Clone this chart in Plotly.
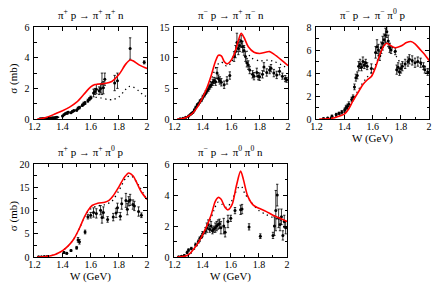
import plotly.graph_objects as go

# ---------------- data ----------------
# Panel 1: pi+ p -> pi+ pi+ n
R1_W = [1.22,1.25,1.30,1.35,1.40,1.45,1.50,1.55,1.60,1.63,1.65,1.70,1.75,1.80,1.85,1.88,1.90,1.95,2.00]
R1_S = [0.0,0.03,0.15,0.35,0.55,0.78,1.10,1.60,2.10,2.25,2.28,2.32,2.45,2.90,3.60,3.85,3.80,3.50,3.30]
D1_W = [1.30,1.35,1.40,1.45,1.50,1.55,1.60,1.63,1.67,1.72,1.76,1.80,1.84,1.87,1.90,1.94,1.97,2.00]
D1_S = [0.02,0.08,0.20,0.38,0.62,0.95,1.32,1.42,1.38,1.28,1.27,1.45,1.85,2.12,2.10,1.85,1.60,1.45]
P1_W = [1.24,1.25,1.26,1.27,1.28,1.29,1.30,1.31,1.32,1.33,1.34,1.35,1.36,1.40,1.41,1.42,1.43,1.44,1.46,1.47,1.48,1.50,1.51,1.52,1.54,1.55,1.56,1.58,1.59,1.60,1.62,1.63,1.64,1.66,1.67,1.68,1.69,1.70,1.77,1.79,1.88,1.98]
P1_S = [0.02,0.02,0.03,0.03,0.04,0.05,0.05,0.06,0.07,0.08,0.09,0.10,0.12,0.20,0.28,0.35,0.40,0.45,0.42,0.50,0.55,0.58,0.70,0.75,0.90,1.00,1.05,1.20,1.30,1.40,1.70,1.80,1.95,1.85,2.00,2.30,2.05,2.60,2.35,2.50,4.60,3.70]
P1_E = [0.02,0.02,0.02,0.02,0.02,0.02,0.02,0.02,0.02,0.02,0.02,0.02,0.02,0.04,0.05,0.05,0.05,0.05,0.05,0.06,0.06,0.06,0.08,0.08,0.08,0.10,0.10,0.10,0.10,0.10,0.25,0.20,0.30,0.25,0.30,0.70,0.40,0.40,0.50,0.50,0.70,0.10]

# Panel 2: pi- p -> pi+ pi- n
R2_W = [1.22,1.25,1.28,1.30,1.33,1.36,1.40,1.43,1.46,1.49,1.51,1.53,1.55,1.57,1.59,1.62,1.65,1.67,1.69,1.72,1.76,1.80,1.84,1.87,1.90,1.95,2.00]
R2_S = [0.0,0.05,0.25,0.5,1.0,1.9,3.6,5.2,7.2,9.5,10.4,10.3,9.4,9.0,9.3,10.5,12.8,14.0,13.3,11.8,10.9,10.7,10.9,11.0,10.6,9.7,8.7]
D2_W = [1.22,1.30,1.40,1.45,1.50,1.53,1.57,1.60,1.64,1.67,1.70,1.74,1.80,1.86,1.90,1.95,2.00]
D2_S = [0.0,0.45,3.3,5.8,8.8,9.3,8.6,9.2,11.3,12.3,11.5,10.0,9.5,9.6,9.4,8.9,8.2]
P2_W = [1.24,1.26,1.28,1.30,1.31,1.32,1.33,1.34,1.35,1.36,1.37,1.38,1.39,1.40,1.41,1.42,1.43,1.44,1.45,1.46,1.47,1.48,1.49,1.50,1.51,1.52,1.53,1.55,1.57,1.59,1.62,1.63,1.64,1.65,1.66,1.67,1.68,1.69,1.70,1.71,1.72,1.73,1.75,1.76,1.78,1.79,1.80,1.82,1.83,1.85,1.87,1.88,1.90,1.92,1.94,1.96,1.98,1.99]
P2_S = [0.05,0.15,0.3,0.5,0.7,0.9,1.1,1.5,1.9,2.3,2.5,2.9,3.1,3.6,3.9,4.3,4.6,4.9,5.3,5.6,6.0,6.3,6.1,7.5,6.6,6.3,6.0,5.6,6.3,7.1,10.2,11.0,12.5,11.5,12.0,12.7,11.8,11.2,10.2,9.2,8.8,8.0,7.3,7.0,7.6,7.0,6.9,7.3,8.5,7.6,8.0,8.3,7.5,7.2,7.8,7.0,6.6,6.4]
P2_E = [0.05,0.05,0.1,0.1,0.1,0.1,0.15,0.15,0.2,0.2,0.2,0.25,0.25,0.3,0.3,0.3,0.35,0.35,0.4,0.4,0.5,0.5,0.6,0.9,0.6,0.6,0.6,0.6,0.6,0.6,0.8,1.0,1.5,1.0,1.0,1.0,0.9,0.8,0.8,0.7,0.7,0.6,0.6,0.6,0.7,0.6,0.6,0.6,0.7,0.6,0.6,0.6,0.6,0.6,0.6,0.5,0.5,0.4]

# Panel 3: pi- p -> pi- pi0 p
R3_W = [1.22,1.28,1.33,1.37,1.40,1.43,1.46,1.50,1.53,1.56,1.59,1.62,1.65,1.68,1.70,1.72,1.76,1.80,1.84,1.87,1.90,1.94,1.97,2.00]
R3_S = [0.0,0.03,0.12,0.28,0.45,0.9,1.6,2.4,3.0,3.4,3.7,4.5,5.6,6.4,6.6,6.45,6.2,6.35,6.65,6.75,6.55,6.0,5.6,5.1]
D3_W = [1.30,1.35,1.40,1.45,1.50,1.55,1.60,1.65,1.70,1.73,1.77,1.80,1.85,1.90,1.95,2.00]
D3_S = [0.05,0.25,0.6,1.4,2.6,3.5,4.2,5.6,6.7,6.4,5.4,4.9,4.9,5.0,4.7,4.3]
P3_W = [1.25,1.28,1.31,1.34,1.36,1.38,1.40,1.41,1.42,1.43,1.45,1.46,1.47,1.48,1.49,1.50,1.51,1.52,1.53,1.54,1.55,1.56,1.59,1.62,1.63,1.64,1.65,1.66,1.67,1.68,1.69,1.70,1.71,1.72,1.73,1.76,1.77,1.78,1.79,1.80,1.81,1.83,1.85,1.86,1.88,1.90,1.92,1.94,1.96,1.97,1.99]
P3_S = [0.05,0.1,0.25,0.4,0.5,0.6,0.8,1.0,1.1,1.3,1.7,1.9,2.8,3.6,3.8,4.6,4.8,4.5,5.0,4.7,4.9,4.6,4.4,5.8,6.3,6.0,5.5,6.2,6.6,6.9,7.3,7.6,6.8,6.2,6.0,5.9,4.3,4.5,4.1,4.4,4.6,4.8,5.0,5.2,5.1,4.9,5.0,4.9,4.6,4.3,4.1]
P3_E = [0.05,0.05,0.1,0.1,0.1,0.15,0.15,0.2,0.2,0.2,0.2,0.2,0.25,0.3,0.3,0.4,0.4,0.3,0.4,0.3,0.3,0.3,0.4,0.5,0.6,0.5,0.4,0.5,0.6,0.5,0.6,0.5,0.5,0.4,0.3,0.3,0.4,0.4,0.3,0.4,0.4,0.4,0.4,0.4,0.4,0.4,0.4,0.4,0.3,0.3,0.3]

# Panel 4: pi+ p -> pi+ pi0 p
R4_W = [1.22,1.28,1.33,1.37,1.40,1.44,1.48,1.52,1.55,1.58,1.61,1.65,1.70,1.73,1.76,1.80,1.84,1.87,1.90,1.93,1.96,2.00]
R4_S = [0.0,0.1,0.4,0.9,1.4,2.4,3.9,6.2,8.3,10.0,11.1,11.6,11.8,12.2,13.2,15.1,17.2,18.1,17.5,15.8,14.0,12.4]
D4_W = [1.22,1.28,1.33,1.37,1.40,1.44,1.48,1.52,1.55,1.58,1.61,1.65,1.70,1.75,1.80,1.85,1.88,1.90,1.95,2.00]
D4_S = [0.0,0.1,0.4,0.9,1.4,2.4,3.9,6.2,8.3,9.8,10.6,11.0,11.3,12.0,14.3,17.0,17.5,17.2,15.0,12.2]
P4_W = [1.23,1.25,1.27,1.29,1.41,1.43,1.46,1.50,1.51,1.52,1.56,1.58,1.60,1.62,1.64,1.67,1.68,1.69,1.72,1.76,1.78,1.79,1.81,1.82,1.85,1.86,1.87,1.88,1.90,1.91,1.94,1.96]
P4_S = [0.05,0.05,0.1,0.1,1.0,0.8,1.4,2.0,3.7,3.3,5.4,8.7,9.0,9.6,9.4,10.1,8.5,9.6,8.1,8.6,9.5,10.6,8.8,11.5,12.2,10.3,12.0,12.3,11.3,11.0,9.8,9.0]
P4_E = [0.05,0.05,0.05,0.05,0.2,0.2,0.2,0.3,0.5,0.5,0.4,0.5,0.6,1.0,1.0,1.0,1.2,1.2,0.6,0.8,1.0,1.0,0.8,1.2,1.5,1.2,1.0,1.2,1.0,1.0,1.0,0.5]

# Panel 5: pi- p -> pi0 pi0 n
R5_W = [1.22,1.27,1.30,1.34,1.38,1.42,1.46,1.49,1.51,1.53,1.56,1.58,1.61,1.64,1.67,1.69,1.72,1.76,1.80,1.85,1.90,1.95,2.00]
R5_S = [0.0,0.05,0.15,0.55,1.1,1.8,2.7,3.6,3.85,3.75,3.2,3.05,3.4,4.6,5.55,5.0,3.95,3.35,3.15,2.95,2.7,2.5,2.3]
D5_W = [1.22,1.30,1.35,1.40,1.45,1.48,1.51,1.54,1.57,1.60,1.63,1.66,1.68,1.70,1.74,1.80,1.85,1.90,1.95,2.00]
D5_S = [0.0,0.12,0.6,1.3,2.3,3.0,3.55,3.4,3.2,3.5,4.1,4.55,4.5,4.1,3.6,3.0,2.75,2.55,2.4,2.25]
P5_W = [1.23,1.25,1.27,1.29,1.30,1.32,1.35,1.37,1.38,1.39,1.40,1.42,1.43,1.44,1.45,1.46,1.47,1.48,1.49,1.50,1.51,1.52,1.53,1.55,1.56,1.58,1.60,1.63,1.67,1.68,1.73,1.81,1.90,1.91,1.92,1.93,1.94,1.95,1.96,1.97,1.98,1.99]
P5_S = [0.02,0.05,0.1,0.3,0.45,0.55,0.8,1.0,1.2,1.3,1.5,1.7,1.9,2.1,1.8,2.0,1.7,1.8,1.9,2.0,2.1,2.15,1.9,2.0,1.6,2.3,2.5,3.0,3.05,3.1,1.95,1.35,1.4,2.0,3.0,4.0,2.5,2.1,2.6,1.4,2.3,1.9]
P5_E = [0.02,0.03,0.05,0.08,0.08,0.08,0.1,0.1,0.1,0.1,0.15,0.2,0.3,0.3,0.2,0.3,0.2,0.2,0.3,0.3,0.3,0.3,0.4,0.5,0.3,0.4,0.2,0.2,0.3,0.3,0.2,0.15,0.2,0.6,1.3,0.7,0.6,0.4,0.5,0.3,0.4,0.4]

TITLES = ["π<sup>+</sup> p → π<sup>+</sup> π<sup>+</sup> n",
          "π<sup>−</sup> p → π<sup>+</sup> π<sup>−</sup> n",
          "π<sup>−</sup> p → π<sup>−</sup> π<sup>0</sup> p",
          "π<sup>+</sup> p → π<sup>+</sup> π<sup>0</sup> p",
          "π<sup>−</sup> p → π<sup>0</sup> π<sup>0</sup> n"]
YMAX = [6, 15, 8, 20, 6]
YDT = [2, 5, 2, 5, 2]
YMINOR = [1, 2.5, 1, 2.5, 1]
X_TICKS = [1.2, 1.4, 1.6, 1.8, 2.0]
X_TICKTEXT = ["1.2", "1.4", "1.6", "1.8", "2"]

panels = [(R1_W, R1_S, D1_W, D1_S, P1_W, P1_S, P1_E),
          (R2_W, R2_S, D2_W, D2_S, P2_W, P2_S, P2_E),
          (R3_W, R3_S, D3_W, D3_S, P3_W, P3_S, P3_E),
          (R4_W, R4_S, D4_W, D4_S, P4_W, P4_S, P4_E),
          (R5_W, R5_S, D5_W, D5_S, P5_W, P5_S, P5_E)]

# ---------------- layout geometry (pixels) ----------------
W_PX, H_PX = 436, 288
XPIX = [(29, 144), (172, 288), (317, 432), (29, 144), (172, 287)]
YPIX = [(22, 118), (22, 118), (22, 118), (165, 262), (165, 262)]

FONT = "Liberation Serif"
fig = go.Figure()
layout = dict(width=W_PX, height=H_PX, autosize=False,
              margin=dict(l=0, r=0, t=0, b=0),
              paper_bgcolor="white", plot_bgcolor="white",
              showlegend=False, font=dict(family=FONT, size=11, color="black"))
annotations = []

for i, (rw, rs, dw, ds, pw, ps, pe) in enumerate(panels):
    n = "" if i == 0 else str(i + 1)
    xa, ya = "x" + n, "y" + n
    fig.add_trace(go.Scatter(x=pw, y=ps, mode="markers", xaxis=xa, yaxis=ya,
                             marker=dict(color="black", size=3),
                             error_y=dict(type="data", array=pe, color="black",
                                          thickness=0.8, width=1.2)))
    fig.add_trace(go.Scatter(x=dw, y=ds, mode="lines", xaxis=xa, yaxis=ya,
                             line=dict(color="black", width=1.3, dash="1.3px,3.5px",
                                       shape="spline", smoothing=0.8)))
    fig.add_trace(go.Scatter(x=rw, y=rs, mode="lines", xaxis=xa, yaxis=ya,
                             line=dict(color="#ff0000", width=1.6,
                                       shape="spline", smoothing=0.8)))
    x0, x1 = XPIX[i]
    y0, y1 = YPIX[i]
    xd = [x0 / W_PX, x1 / W_PX]
    yd = [1 - y1 / H_PX, 1 - y0 / H_PX]
    common = dict(showline=True, linecolor="black", linewidth=1, mirror="allticks",
                  ticks="inside", ticklen=4, tickcolor="black", tickwidth=1,
                  showgrid=False, zeroline=False,
                  tickfont=dict(family=FONT, size=10, color="black"))
    layout["xaxis" + n] = dict(domain=xd, range=[1.2, 2.0], anchor=ya,
                               tickvals=X_TICKS, ticktext=X_TICKTEXT, ticklabelstandoff=-2,
                               minor=dict(dtick=0.1, tick0=1.2, ticks="inside", ticklen=2.5,
                                          tickcolor="black", tickwidth=1),
                               **common)
    layout["yaxis" + n] = dict(domain=yd, range=[0, YMAX[i]], anchor=xa,
                               tick0=0, dtick=YDT[i], ticklabelstandoff=2,
                               minor=dict(dtick=YMINOR[i], tick0=0, ticks="inside", ticklen=2.5,
                                          tickcolor="black", tickwidth=1),
                               **common)
    cx = (x0 + x1) / 2 / W_PX
    ty = 1 - (y0 - 14) / H_PX
    annotations.append(dict(text=TITLES[i], x=cx, y=ty, xref="paper", yref="paper",
                            showarrow=False, xanchor="center", yanchor="middle",
                            font=dict(family=FONT, size=11, color="black")))
    if i in (2, 3, 4):
        annotations.append(dict(text="W (GeV)", x=cx, y=1 - (y1 + 20) / H_PX,
                                xref="paper", yref="paper", showarrow=False,
                                xanchor="center", yanchor="middle",
                                font=dict(family=FONT, size=11, color="black")))
    if i in (0, 3):
        annotations.append(dict(text="σ (mb)", x=8 / W_PX, y=1 - ((y0 + y1) / 2 + 6) / H_PX,
                                xref="paper", yref="paper", showarrow=False, textangle=-90,
                                xanchor="center", yanchor="middle",
                                font=dict(family=FONT, size=11, color="black")))

layout["annotations"] = annotations
fig.update_layout(**layout)
fig.write_html("out.html", config={"displayModeBar": False},
               post_script="document.body.style.margin='0';document.body.style.padding='0';")
